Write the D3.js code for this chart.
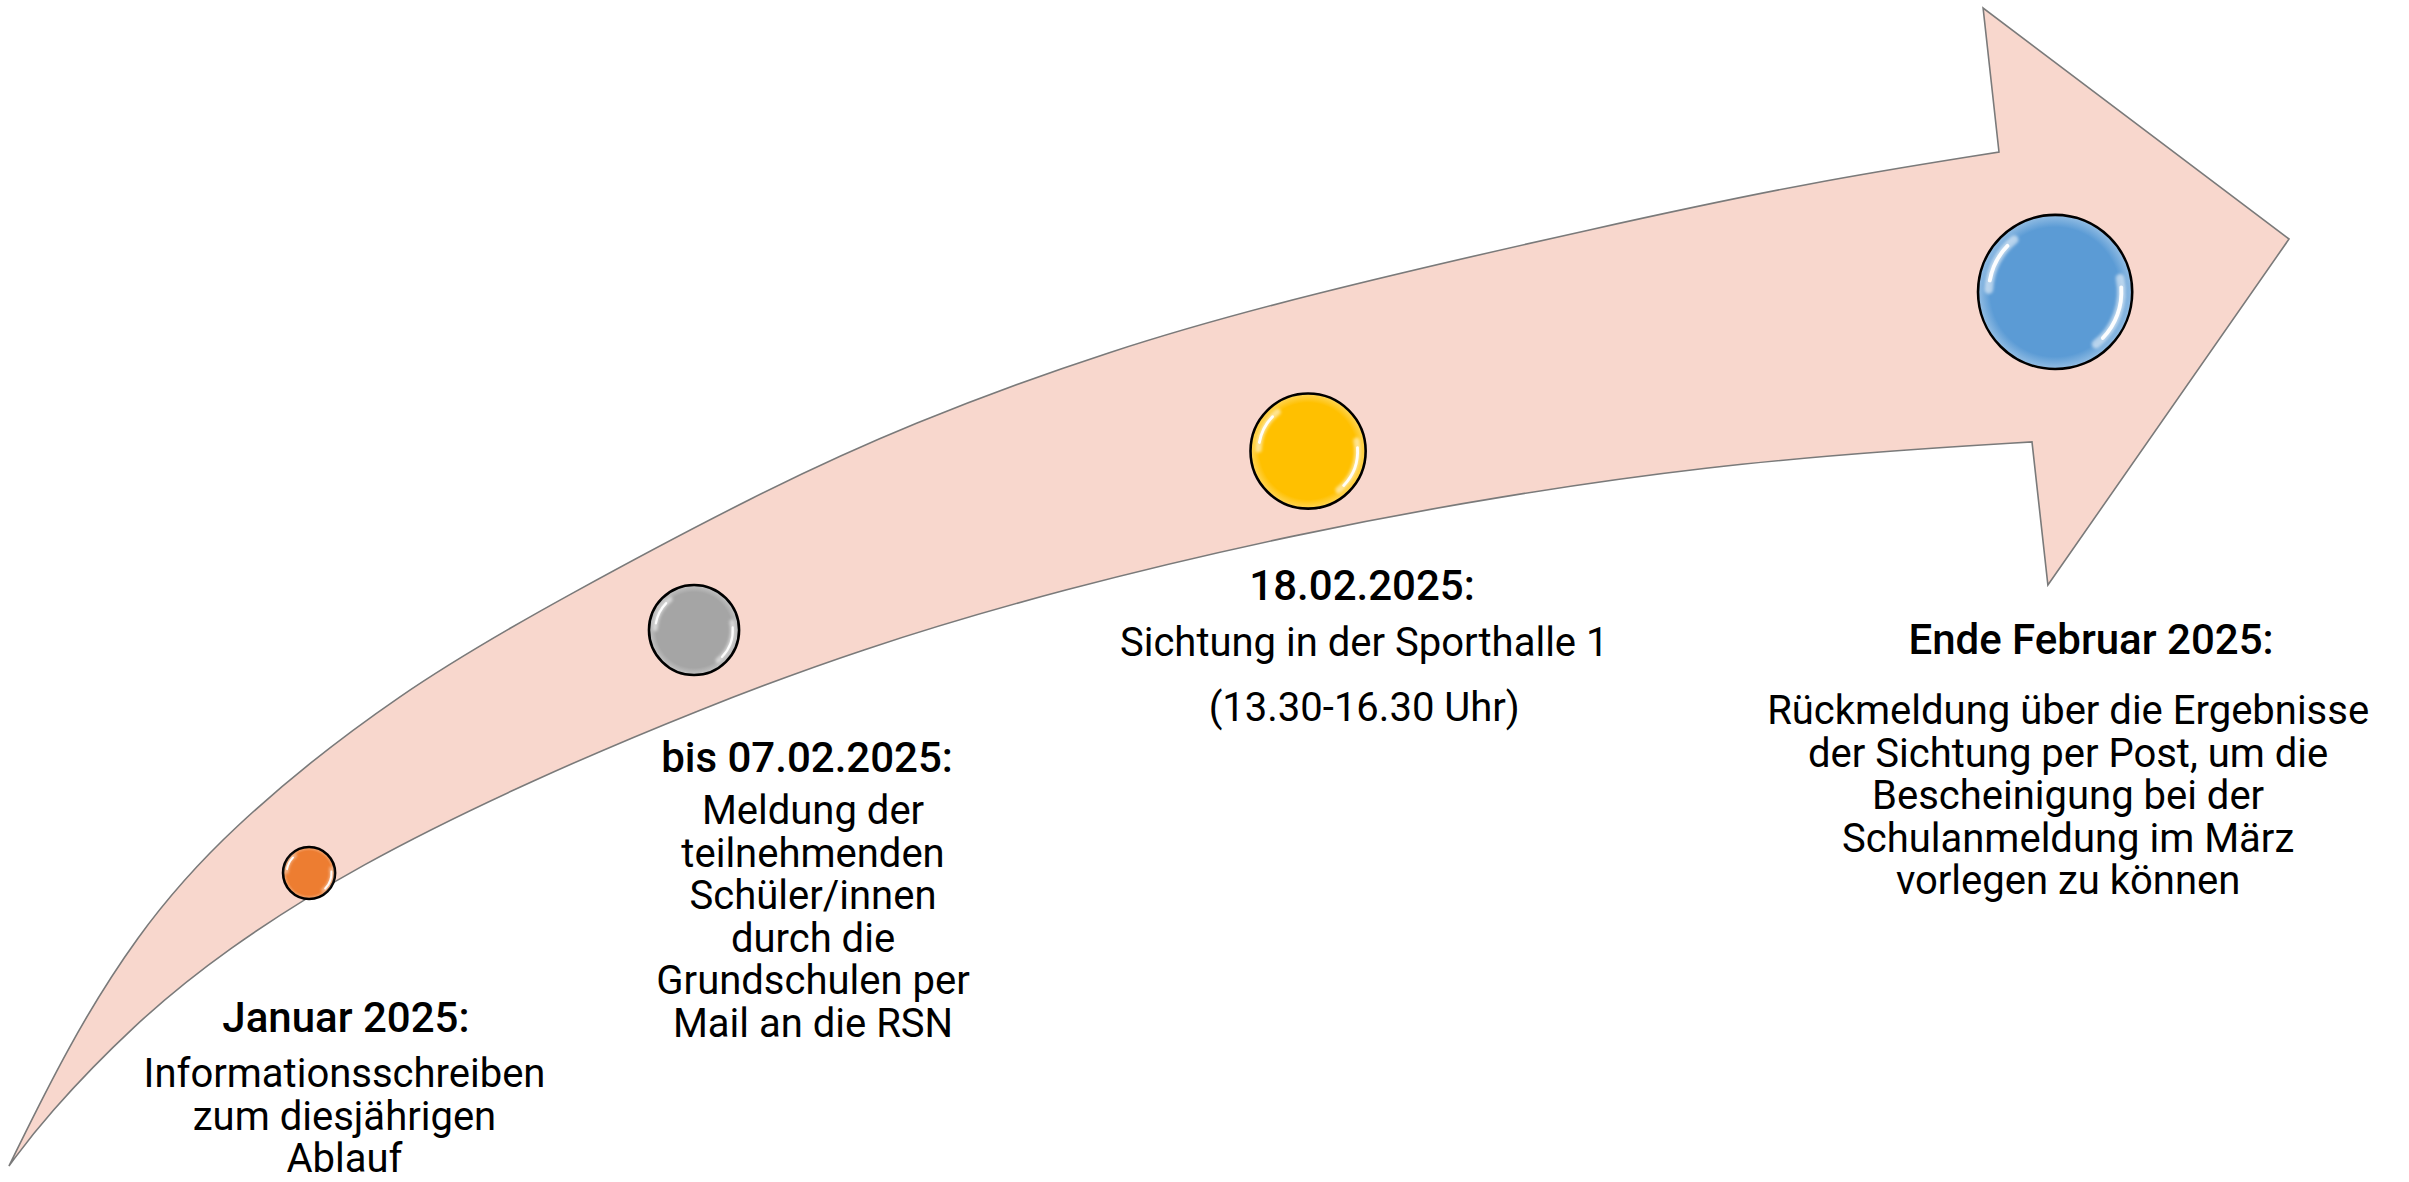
<!DOCTYPE html>
<html>
<head>
<meta charset="utf-8">
<script src="https://cdn.jsdelivr.net/npm/d3@7"></script>
<style>
  html, body { margin: 0; padding: 0; background: #ffffff; overflow: hidden; }
  svg { display: block; }
</style>
</head>
<body>
<svg id="chart"></svg>
<script>
// ---------------- data ----------------
const milestoneTitles = ["Januar 2025:", "bis 07.02.2025:", "18.02.2025:", "Ende Februar 2025:"];
const milestoneTexts = [
  [["Informationsschreiben", "zum diesjährigen", "Ablauf"]],
  [["Meldung der", "teilnehmenden", "Schüler/innen", "durch die", "Grundschulen per", "Mail an die RSN"]],
  [["Sichtung in der Sporthalle 1"], ["(13.30-16.30 Uhr)"]],
  [["Rückmeldung über die Ergebnisse", "der Sichtung per Post, um die", "Bescheinigung bei der", "Schulanmeldung im März", "vorlegen zu können"]]
];
const dotColors = ["#ED7D31", "#A5A5A5", "#FFC000", "#5B9BD5"];
// milestone values (percent of canvas width / height)
const dotX    = [12.83, 28.81, 54.30, 85.31];
const dotY    = [73.86, 53.30, 38.16, 24.70];
const dotSize = [1.08, 1.87, 2.39, 3.20];
const titleX  = [14.36, 33.50, 56.54, 86.80];
const titleY  = [86.04, 64.04, 49.49, 54.06];
const textX   = [14.30, 33.75, 56.63, 85.85];
const textY   = [90.80, 68.53, 54.31, 60.07];
// arrow outline (percent)
const arrowUpper = [[0.37,98.65],[2.78,88.66],[5.56,79.36],[9.26,70.39],[16.60,58.38],[23.70,50.17],
  [31.34,41.88],[37.69,35.87],[46.16,29.53],[53.96,25.04],[66.75,19.04],[75.18,15.40],[82.98,12.86]];
const arrowHead = [[82.32,0.68],[95.02,20.22],[85.01,49.49]];
const arrowLower = [[0.37,98.65],[1.87,94.50],[5.56,86.63],[9.26,80.46],[14.82,73.18],[22.25,65.82],
  [29.06,59.98],[35.57,54.99],[44.04,49.83],[53.96,45.09],[62.27,41.96],[70.94,39.42],[78.87,38.07],[84.35,37.39]];

// ---------------- drawing ----------------
const W = 2409, H = 1182;
const svg = d3.select("#chart").attr("width", W).attr("height", H);
const x = d3.scaleLinear().domain([0, 100]).range([0, W]);
const y = d3.scaleLinear().domain([0, 100]).range([0, H]);
const r = d3.scaleLinear().domain([0, 100]).range([0, W]);

const defs = svg.append("defs");
const blur = defs.append("filter").attr("id", "gloss").attr("x", "-50%").attr("y", "-50%").attr("width", "200%").attr("height", "200%");
blur.append("feGaussianBlur").attr("stdDeviation", 1.6);

// arrow
const edge = d3.line().x(d => x(d[0])).y(d => y(d[1])).curve(d3.curveBasis);
const upperD = edge(arrowUpper);
const lowerD = edge(arrowLower.slice().reverse()).replace(/^M/, "L");
const headD = arrowHead.map(p => "L" + x(p[0]) + "," + y(p[1])).join("");
svg.append("path")
  .attr("d", upperD + headD + lowerD + "Z")
  .attr("fill", "#F8D7CD")
  .attr("stroke", "#7a7a7a")
  .attr("stroke-width", 1.6)
  .attr("stroke-linejoin", "miter");

// dots
const dots = dotColors.map((c, i) => ({ c, i, cx: x(dotX[i]), cy: y(dotY[i]), rr: r(dotSize[i]) }));
dots.forEach(d => {
  const g = defs.append("radialGradient").attr("id", "grad" + d.i);
  g.append("stop").attr("offset", "0%").attr("stop-color", d.c);
  g.append("stop").attr("offset", "84%").attr("stop-color", d.c);
  g.append("stop").attr("offset", "100%").attr("stop-color", d3.interpolateRgb(d.c, "#ffffff")(0.35));
});
const dg = svg.selectAll("g.dot").data(dots).join("g").attr("class", "dot");
dg.append("circle")
  .attr("cx", d => d.cx).attr("cy", d => d.cy).attr("r", d => d.rr)
  .attr("fill", d => "url(#grad" + d.i + ")")
  .attr("stroke", "#000").attr("stroke-width", 2.6);

function arcPath(cx, cy, rad, a0, a1) {
  const toR = Math.PI / 180;
  const p0 = [cx + rad * Math.cos(a0 * toR), cy + rad * Math.sin(a0 * toR)];
  const p1 = [cx + rad * Math.cos(a1 * toR), cy + rad * Math.sin(a1 * toR)];
  return `M${p0[0]},${p0[1]}A${rad},${rad} 0 0 1 ${p1[0]},${p1[1]}`;
}
const highlightArcs = [[182, 232], [-12, 52]];
highlightArcs.forEach(([a0, a1]) => {
  dg.append("path")
    .attr("d", d => arcPath(d.cx, d.cy, d.rr * 0.86, a0, a1))
    .attr("fill", "none").attr("stroke", "#ffffff")
    .attr("stroke-width", d => Math.max(3, d.rr * 0.11))
    .attr("stroke-linecap", "round")
    .attr("opacity", 0.55)
    .attr("filter", "url(#gloss)");
  dg.append("path")
    .attr("d", d => arcPath(d.cx, d.cy, d.rr * 0.86, a0 + 8, a1 - 8))
    .attr("fill", "none").attr("stroke", "#ffffff")
    .attr("stroke-width", d => Math.max(2, d.rr * 0.05))
    .attr("stroke-linecap", "round")
    .attr("opacity", 0.95);
});

// texts
const FONT = "Roboto, 'Noto Sans', sans-serif";
const titleSize = 42, bodySize = 40, lineGap = 42.6, paraGap = 22;
milestoneTitles.forEach((t, i) => {
  svg.append("text")
    .attr("x", x(titleX[i])).attr("y", y(titleY[i]) + titleSize * 0.36)
    .attr("text-anchor", "middle")
    .attr("font-family", FONT).attr("font-weight", 500)
    .attr("font-size", titleSize).attr("fill", "#000")
    .text(t);
  let line = 0;
  milestoneTexts[i].forEach((para, pi) => {
    para.forEach(l => {
      svg.append("text")
        .attr("x", x(textX[i]))
        .attr("y", y(textY[i]) + line * lineGap + pi * paraGap + bodySize * 0.35)
        .attr("text-anchor", "middle")
        .attr("font-family", FONT).attr("font-weight", 400)
        .attr("font-size", bodySize).attr("fill", "#000")
        .text(l);
      line++;
    });
  });
});
</script>
</body>
</html>
